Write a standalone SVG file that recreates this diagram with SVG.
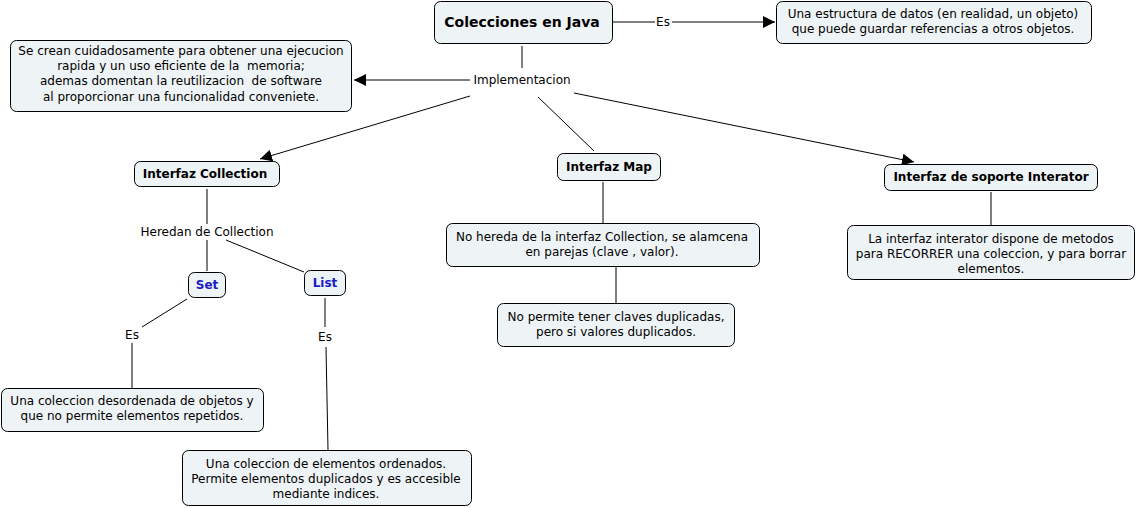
<svg xmlns="http://www.w3.org/2000/svg" width="1137" height="508" viewBox="0 0 1137 508">
<style>
.box{fill:#eef3f5;stroke:#000;stroke-width:1}
.t{font-family:"DejaVu Sans",Verdana,sans-serif;font-size:12px;fill:#000;text-anchor:middle;white-space:pre}
.b{font-weight:bold}
.blue{fill:#1a1ac8}
.big{font-size:14px}
.ln{stroke:#000;stroke-width:1;fill:none}
</style>
<defs>
<marker id="arr" viewBox="0 0 10 10" refX="10" refY="5" markerWidth="12" markerHeight="12" markerUnits="userSpaceOnUse" orient="auto">
<path d="M0,0 L10,5 L0,10 z" fill="#000"/>
</marker>
</defs>
<rect width="1137" height="508" fill="#fff"/>
<g id="connectors">
<line class="ln" x1="613" y1="22" x2="655" y2="22"/>
<line class="ln" x1="672" y1="22" x2="775" y2="22" marker-end="url(#arr)"/>
<line class="ln" x1="522" y1="46" x2="522" y2="68"/>
<line class="ln" x1="470" y1="80" x2="354" y2="80" marker-end="url(#arr)"/>
<line class="ln" x1="470" y1="96" x2="260" y2="159" marker-end="url(#arr)"/>
<line class="ln" x1="538" y1="97" x2="594" y2="151"/>
<line class="ln" x1="574" y1="93" x2="914" y2="162" marker-end="url(#arr)"/>
<line class="ln" x1="207" y1="189" x2="207" y2="224"/>
<line class="ln" x1="207" y1="240" x2="207" y2="271"/>
<line class="ln" x1="226" y1="240" x2="304" y2="272"/>
<line class="ln" x1="187" y1="299" x2="142" y2="327"/>
<line class="ln" x1="132" y1="343" x2="132" y2="388"/>
<line class="ln" x1="325" y1="298" x2="325" y2="327"/>
<line class="ln" x1="326" y1="347" x2="328" y2="450"/>
<line class="ln" x1="603" y1="182" x2="603" y2="223"/>
<line class="ln" x1="616" y1="267" x2="616" y2="303"/>
<line class="ln" x1="991" y1="192" x2="991" y2="225"/>
<text class="t" x="663" y="26">Es</text>
<text class="t" x="522" y="84">Implementacion</text>
<text class="t" x="207" y="236">Heredan de Collection</text>
<text class="t" x="132" y="339">Es</text>
<text class="t" x="325" y="341">Es</text>
</g>
<g id="colecciones">
<rect class="box" x="434.5" y="1.5" width="178" height="42" rx="6"/>
<text class="t b big" x="522" y="27">Colecciones en Java</text>
</g>
<g id="estructura">
<rect class="box" x="776.5" y="1.5" width="315" height="42" rx="6"/>
<text class="t" x="933" y="18">Una estructura de datos (en realidad, un objeto)</text>
<text class="t" x="933" y="33">que puede guardar referencias a otros objetos.</text>
</g>
<g id="cuidadosamente">
<rect class="box" x="10.5" y="40.5" width="341" height="71" rx="6"/>
<text class="t" x="181" y="55" xml:space="preserve">Se crean cuidadosamente para obtener una ejecucion</text>
<text class="t" x="181" y="70" xml:space="preserve">rapida y un uso eficiente de la  memoria;</text>
<text class="t" x="181" y="85" xml:space="preserve">ademas domentan la reutilizacion  de software</text>
<text class="t" x="181" y="101" xml:space="preserve">al proporcionar una funcionalidad conveniete.</text>
</g>
<g id="collection">
<rect class="box" x="134.5" y="161.5" width="145" height="25" rx="6"/>
<text class="t b" x="205" y="178">Interfaz Collection</text>
</g>
<g id="set">
<rect class="box" x="188.5" y="272.5" width="37" height="25" rx="6"/>
<text class="t b blue" x="207" y="289">Set</text>
</g>
<g id="list">
<rect class="box" x="304.5" y="270.5" width="41" height="25" rx="6"/>
<text class="t b blue" x="325" y="287">List</text>
</g>
<g id="setdef">
<rect class="box" x="1.5" y="388.5" width="262" height="43" rx="6"/>
<text class="t" x="132" y="405">Una coleccion desordenada de objetos y</text>
<text class="t" x="132" y="420">que no permite elementos repetidos.</text>
</g>
<g id="listdef">
<rect class="box" x="182.5" y="450.5" width="289" height="55" rx="6"/>
<text class="t" x="326" y="468">Una coleccion de elementos ordenados.</text>
<text class="t" x="326" y="483">Permite elementos duplicados y es accesible</text>
<text class="t" x="326" y="498">mediante indices.</text>
</g>
<g id="map">
<rect class="box" x="557.5" y="153.5" width="103" height="27" rx="6"/>
<text class="t b" x="609" y="171">Interfaz Map</text>
</g>
<g id="mapdef">
<rect class="box" x="446.5" y="223.5" width="313" height="43" rx="6"/>
<text class="t" x="602" y="241">No hereda de la interfaz Collection, se alamcena</text>
<text class="t" x="602" y="256">en parejas (clave , valor).</text>
</g>
<g id="mapdef2">
<rect class="box" x="497.5" y="303.5" width="237" height="43" rx="6"/>
<text class="t" x="616" y="321">No permite tener claves duplicadas,</text>
<text class="t" x="616" y="336">pero si valores duplicados.</text>
</g>
<g id="iterator">
<rect class="box" x="884.5" y="164.5" width="213" height="26" rx="6"/>
<text class="t b" x="991" y="181">Interfaz de soporte Interator</text>
</g>
<g id="iteratordef">
<rect class="box" x="847.5" y="225.5" width="287" height="54" rx="6"/>
<text class="t" x="991" y="243">La interfaz interator dispone de metodos</text>
<text class="t" x="991" y="258">para RECORRER una coleccion, y para borrar</text>
<text class="t" x="991" y="273">elementos.</text>
</g>
</svg>
